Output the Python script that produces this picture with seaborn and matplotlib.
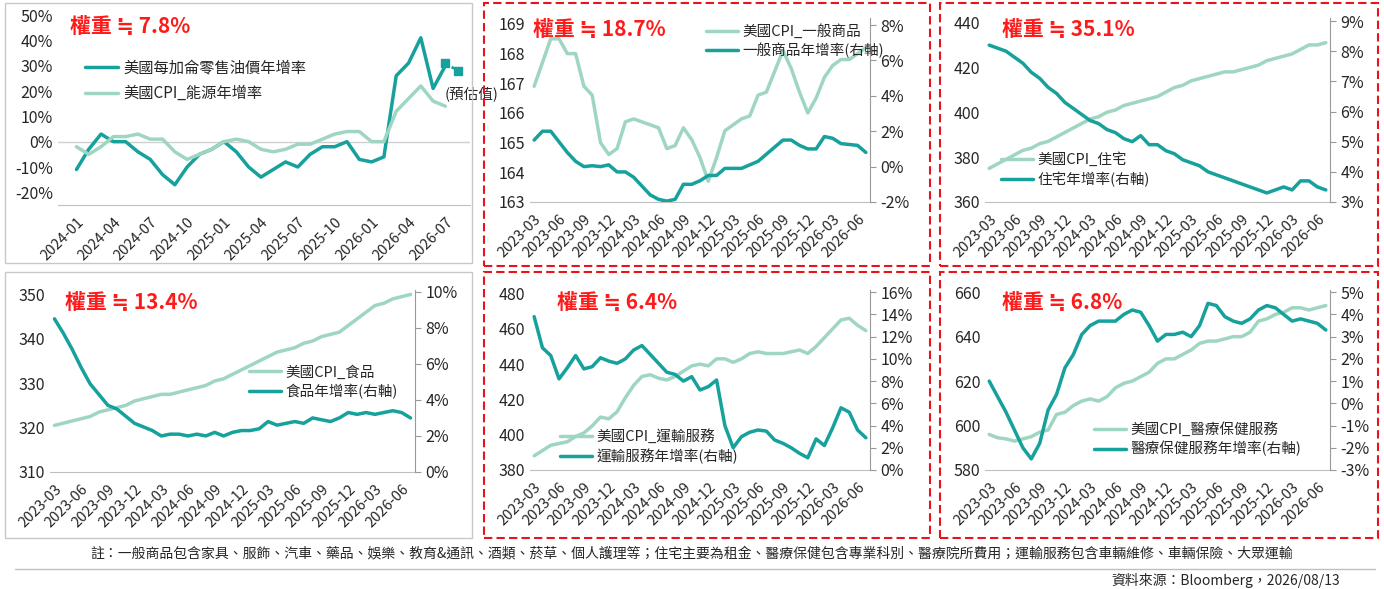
import numpy as np
import pandas as pd
import matplotlib
matplotlib.use("Agg")
import matplotlib.pyplot as plt
import seaborn as sns
from matplotlib.patches import Rectangle
from matplotlib.ticker import FuncFormatter
from matplotlib.lines import Line2D

sns.set_style("white")
plt.rcParams['font.family'] = ['Noto Sans CJK TC', 'DejaVu Sans']

DARK = "#16a19c"
LIGHT = "#9fd6c2"

# ---------------------------
# data
# ---------------------------
months_24 = pd.date_range("2024-01", periods=31, freq="MS").strftime("%Y-%m").tolist()
oil_yoy = [-11, -3, 3, 0, 0, -4, -7, -13, -17, -10, -5, -3, 0, -4, -10, -14, -11, -8, -10, -5,
           -2, -2, 0, -7, -8, -6, 26, 31, 41, 21, 30]
energy_yoy = [-2, -5, -2, 2, 2, 3, 1, 1, -4, -7, -5, -3, 0, 1, 0, -3, -4, -3, -1, -1,
              1, 3, 4, 4, 0, 0, 12, 17, 22, 16, 14]
oil_est_months = ["2026-07", "2026-08"]
oil_est = [31, 28]

months_23 = pd.date_range("2023-03", periods=41, freq="MS").strftime("%Y-%m").tolist()
goods_idx = [166.9, 167.7, 168.5, 168.5, 168.0, 168.0, 166.9, 166.6, 165.0, 164.6,
             164.8, 165.7, 165.8, 165.7, 165.6, 165.5, 164.8, 164.9, 165.5, 165.1,
             164.5, 163.7, 164.5, 165.4, 165.6, 165.8, 165.9, 166.6, 166.7, 167.4,
             168.1, 167.5, 166.7, 166.0, 166.5, 167.2, 167.6, 167.8, 167.8, 168.0, 168.2]
goods_yoy = [1.5, 2, 2, 1.4, 0.8, 0.3, 0, 0.05, 0, 0.1, -0.3, -0.3, -0.6, -1.1, -1.6,
             -1.85, -1.95, -1.85, -1.0, -1.0, -0.8, -0.5, -0.5, -0.1, -0.1, -0.1, 0.1, 0.3,
             0.7, 1.1, 1.5, 1.5, 1.2, 1.0, 1.0, 1.7, 1.6, 1.3, 1.25, 1.2, 0.8]
shelter_idx = [375, 377, 379, 381, 383, 384, 386, 387, 389, 391, 393, 395, 397, 398, 400,
               401, 403, 404, 405, 406, 407, 409, 411, 412, 414, 415, 416, 417, 418, 418,
               419, 420, 421, 423, 424, 425, 426, 428, 430, 430, 431]
shelter_yoy = [8.2, 8.1, 8.0, 7.8, 7.6, 7.3, 7.1, 6.8, 6.6, 6.3, 6.1, 5.9, 5.7, 5.6, 5.4,
               5.3, 5.1, 5.0, 5.2, 4.9, 4.9, 4.7, 4.6, 4.4, 4.3, 4.2, 4.0, 3.9, 3.8, 3.7,
               3.6, 3.5, 3.4, 3.3, 3.4, 3.5, 3.4, 3.7, 3.7, 3.5, 3.4]
food_idx = [320.5, 321, 321.5, 322, 322.5, 323.5, 324, 324.5, 325, 326, 326.5, 327, 327.5,
            327.5, 328, 328.5, 329, 329.5, 330.5, 331, 332, 333, 334, 335, 336, 337, 337.5,
            338, 339, 339.5, 340.5, 341, 341.5, 343, 344.5, 346, 347.5, 348, 349, 349.5, 350]
food_yoy = [8.5, 7.7, 6.8, 5.8, 4.9, 4.3, 3.7, 3.5, 3.1, 2.7, 2.5, 2.3, 2.0, 2.1, 2.1, 2.0,
            2.1, 2.0, 2.2, 2.0, 2.2, 2.3, 2.3, 2.4, 2.8, 2.6, 2.7, 2.8, 2.7, 3.0, 2.9, 2.8,
            3.0, 3.3, 3.2, 3.3, 3.2, 3.3, 3.4, 3.3, 3.0]
trans_idx = [388, 391, 394, 395, 396, 399, 401, 405, 410, 409, 413, 421, 428, 433, 434, 432,
             431, 433, 436, 439, 440, 439, 443, 443, 441, 443, 446, 447, 446, 446, 446, 447,
             448, 446, 450, 455, 460, 465, 466, 462, 459]
trans_yoy = [13.8, 11, 10.3, 8.2, 9.2, 10.3, 9.1, 9.3, 10.1, 9.8, 9.6, 10.0, 10.8, 11.2, 10.4,
             9.6, 8.8, 8.6, 8.0, 8.4, 7.2, 7.5, 8.1, 4.0, 2.0, 3.0, 3.4, 3.6, 3.5, 2.7, 2.4,
             2.0, 1.5, 1.1, 2.8, 2.2, 3.8, 5.6, 5.2, 3.6, 2.9]
med_idx = [596, 594.5, 594, 593, 594, 595, 597, 598, 605, 606, 609, 611, 612, 611, 613, 617,
           619, 620, 622, 624, 628, 630, 630, 632, 634, 637, 638, 638, 639, 640, 640, 642,
           647, 648, 650, 651, 653, 653, 652, 653, 654]
med_yoy = [1.0, 0.3, -0.4, -1.2, -2.0, -2.5, -1.8, -0.3, 0.4, 1.6, 2.2, 3.1, 3.5, 3.7, 3.7,
           3.7, 4.0, 4.2, 4.1, 3.5, 2.8, 3.1, 3.1, 3.2, 3.0, 3.5, 4.5, 4.4, 3.9, 3.7, 3.6,
           3.8, 4.2, 4.4, 4.3, 4.0, 3.7, 3.8, 3.7, 3.6, 3.3]

W, H = 1384, 589
fig = plt.figure(figsize=(W / 100, H / 100), dpi=100)
pct = FuncFormatter(lambda v, p: f"{v:.0f}%")


def ax_at(x0, y0, x1, y1):
    return fig.add_axes([x0 / W, 1 - y1 / H, (x1 - x0) / W, (y1 - y0) / H])


def box(x0, y0, x1, y1, dashed):
    r = Rectangle((x0 / W, 1 - y1 / H), (x1 - x0) / W, (y1 - y0) / H, transform=fig.transFigure,
                  fill=False, lw=1.5 if dashed else 1.0,
                  ec="#e8141b" if dashed else "#c8c8c8", ls=(0, (4, 2)) if dashed else "-")
    fig.patches.append(r)


def style(ax, months, every=3):
    ax.set_xlim(-0.5, len(months) - 0.5)
    ticks = list(range(0, len(months), every))
    ax.set_xticks(ticks)
    ax.set_xticklabels([months[i] for i in ticks], rotation=45, ha="right",
                       rotation_mode="anchor", fontsize=10.5)
    ax.tick_params(axis="y", labelsize=11.5, length=0)
    ax.set_xlabel("")
    ax.set_ylabel("")
    for s in ["top", "right", "left"]:
        ax.spines[s].set_visible(False)
    ax.spines["bottom"].set_color("#bfbfbf")


def weight(ax, txt, x, y):
    ax.text(x, y, txt, transform=ax.transAxes, color="#ff1a1a", fontsize=15,
            fontweight="bold", va="center")


def dual(rect, months, idx, yoy, ylim, yticks, rlim, rticks, name_idx, name_yoy, wtxt, wpos, legpos):
    ax = ax_at(*rect)
    x = np.arange(len(months))
    sns.lineplot(x=x, y=idx, ax=ax, color=LIGHT, lw=2.5)
    ax.set_ylim(*ylim)
    ax.set_yticks(yticks)
    style(ax, months)
    ax2 = ax.twinx()
    sns.lineplot(x=x, y=yoy, ax=ax2, color=DARK, lw=2.5)
    ax2.set_ylim(*rlim)
    ax2.set_yticks(rticks)
    ax2.yaxis.set_major_formatter(pct)
    ax2.tick_params(axis="y", labelsize=11.5, length=4, color="#999999")
    ax2.set_ylabel("")
    for s in ["top", "left", "bottom"]:
        ax2.spines[s].set_visible(False)
    ax2.spines["right"].set_color("#999999")
    handles = [Line2D([], [], color=LIGHT, lw=2.5), Line2D([], [], color=DARK, lw=2.5)]
    leg = ax2.legend(handles, [name_idx, name_yoy], loc="upper left", bbox_to_anchor=legpos,
                     frameon=False, fontsize=10.5, handlelength=2.2, borderaxespad=0,
                     labelspacing=0.3, handletextpad=0.3)
    leg.set_zorder(5)
    weight(ax, wtxt, *wpos)


# panel 1 - oil
ax1 = ax_at(58, 15, 470, 205)
sns.lineplot(x=months_24, y=oil_yoy, ax=ax1, color=DARK, lw=2.5, label="美國每加侖零售油價年增率")
sns.lineplot(x=months_24, y=energy_yoy, ax=ax1, color=LIGHT, lw=2.5, label="美國CPI_能源年增率")
xe = [months_24.index(oil_est_months[0]), months_24.index(oil_est_months[0]) + 1]
ax1.plot(xe, oil_est, color=DARK, ls=":", lw=2, marker="s", ms=6)
ax1.text(xe[0] - 0.1, 19, "(預估值)", fontsize=10.5, va="center")
ax1.set_ylim(-25, 50)
ax1.set_yticks(range(-20, 51, 10))
ax1.yaxis.set_major_formatter(pct)
style(ax1, months_24)
ax1.set_xlim(-1.5, 32)
ax1.axhline(0, color="#d0d0d0", lw=1, zorder=0)
ax1.legend(loc="upper left", bbox_to_anchor=(0.05, 0.8), frameon=False, fontsize=11,
           handlelength=2.2, borderaxespad=0, labelspacing=0.6, handletextpad=0.3)
weight(ax1, "權重 ≒ 7.8%", 0.03, 0.94)

dual((530, 18, 870, 202), months_23, goods_idx, goods_yoy, (163, 169.2), range(163, 170),
     (-2, 8.4), range(-2, 9, 2), "美國CPI_一般商品", "一般商品年增率(右軸)",
     "權重 ≒ 18.7%", (0.01, 0.94), (0.5, 1.0))
dual((985, 18, 1330, 202), months_23, shelter_idx, shelter_yoy, (360, 442), range(360, 441, 20),
     (3, 9.1), range(3, 10), "美國CPI_住宅", "住宅年增率(右軸)",
     "權重 ≒ 35.1%", (0.05, 0.94), (0.03, 0.3))
dual((50, 290, 415, 472), months_23, food_idx, food_yoy, (310, 351), range(310, 351, 10),
     (0, 10.1), range(0, 11, 2), "美國CPI_食品", "食品年增率(右軸)",
     "權重 ≒ 13.4%", (0.04, 0.93), (0.53, 0.62))
dual((530, 290, 870, 470), months_23, trans_idx, trans_yoy, (380, 482), range(380, 481, 20),
     (0, 16.2), range(0, 17, 2), "美國CPI_運輸服務", "運輸服務年增率(右軸)",
     "權重 ≒ 6.4%", (0.08, 0.93), (0.07, 0.26))
dual((985, 290, 1330, 470), months_23, med_idx, med_yoy, (580, 661), range(580, 661, 20),
     (-3, 5.1), range(-3, 6), "美國CPI_醫療保健服務", "醫療保健服務年增率(右軸)",
     "權重 ≒ 6.8%", (0.05, 0.93), (0.3, 0.3))

box(5, 3, 472, 263, False)
box(484, 3, 930, 266, True)
box(940, 3, 1378, 266, True)
box(5, 272, 472, 538, False)
box(484, 272, 930, 538, True)
box(940, 272, 1378, 538, True)

fig.text(0.5, 1 - 553 / H, "註：一般商品包含家具、服飾、汽車、藥品、娛樂、教育&通訊、酒類、菸草、個人護理等；住宅主要為租金、醫療保健包含專業科別、醫療院所費用；運輸服務包含車輛維修、車輛保險、大眾運輸",
         ha="center", va="center", fontsize=10)
fig.lines.append(Line2D([15 / W, 1375 / W], [1 - 569 / H] * 2, transform=fig.transFigure,
                        color="#bfbfbf", lw=1))
fig.text(1340 / W, 1 - 580 / H, "資料來源：Bloomberg，2026/08/13", ha="right", va="center", fontsize=10)

fig.savefig("out.png", dpi=100)
